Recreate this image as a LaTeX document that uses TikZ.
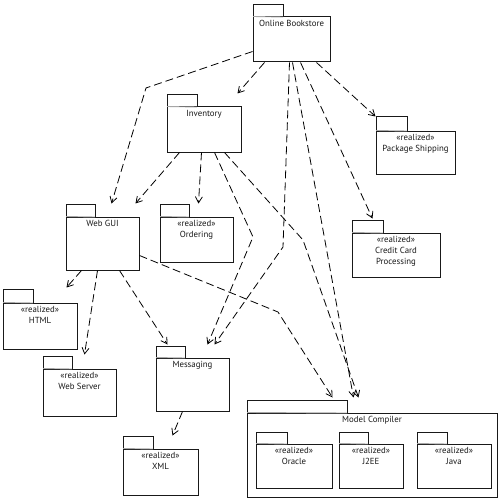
\documentclass[tikz,border=0pt]{standalone}
\usepackage{fontspec}
\setmainfont{PT Sans}
\usetikzlibrary{arrows.meta,calc,fit}
\tikzset{
  pkgbody/.style={draw=black!90, line width=1pt, fill=white, inner sep=0pt},
  pkgedge/.style={draw=black!90, line width=1pt, fill=white},
  sepline/.style={draw=black!35, line width=0.9pt},
  pkgtext/.style={font=\fontsize{8.8}{10.8}\selectfont, align=center, inner sep=0pt, text=black!90},
  dep/.style={draw=black, line width=0.8pt, dash pattern=on 8pt off 4pt,
    -{Straight Barb[length=6pt,width=7pt]}},
}
\newcommand\pkgshape[8]{%
  \draw[pkgedge] (#2,#5) -- (#2,#3) -- (#4,#3) -- (#4,#5);
  \node[pkgbody, fit={(#2,#5) (#6,#7)}] (#1) {};
  \draw[sepline] ([xshift=0.6pt]#1.north west) -- (#4,#5);
  \node[pkgtext, anchor=north] at ($(#1.north)+(0,3.5)$) {#8};
}
\begin{document}
\begin{tikzpicture}[x=1pt,y=-1pt]
\useasboundingbox[fill=white] (0,0) rectangle (500,500);

\pkgshape{ob}{253}{5}{283}{17}{330}{62}{Online Bookstore}
\pkgshape{inv}{167}{95}{197}{107}{241}{152}{Inventory}
\pkgshape{ship}{376}{117}{407}{131}{455}{174}{«realized»\\Package Shipping}
\pkgshape{credit}{352}{220}{383}{233}{440}{277}{«realized»\\Credit Card\\Processing}
\pkgshape{web}{66}{204}{95}{217}{139}{270}{Web GUI}
\pkgshape{ord}{160}{204}{189}{217}{233}{262}{«realized»\\Ordering}
\pkgshape{html}{3}{289}{33}{303}{77}{349}{«realized»\\HTML}
\pkgshape{websrv}{43}{356}{72}{369}{116}{416}{«realized»\\Web Server}
\pkgshape{msg}{156}{346}{185}{358}{229}{411}{Messaging}
\pkgshape{xml}{123}{436}{153}{449}{198}{495}{«realized»\\XML}
\pkgshape{mc}{247}{400}{347}{413}{497}{497}{Model Compiler}
\pkgshape{oracle}{256}{432}{287}{444}{332}{488}{«realized»\\Oracle}
\pkgshape{jee}{339}{432}{368}{444}{403}{488}{«realized»\\J2EE}
\pkgshape{java}{417}{432}{447}{444}{491}{488}{«realized»\\Java}

% Online Bookstore dependencies
\draw[dep] ($(ob.north west)+(0,35)$) -- (146,88) -- ($(web.north west)+(46,-13)$);
\draw[dep] ($(ob.south west)+(12,0)$) -- ($(inv.north west)+(71,-13)$);
\draw[dep] ($(ob.south west)+(37,0)$) -- (283,247) -- ($(msg.north west)+(59,-13)$);
\draw[dep] ($(ob.south west)+(40,0)$) -- ($(mc.north west)+(107,-15)$);
\draw[dep] ($(ob.south west)+(48,0)$) -- ($(credit.north west)+(21,-14)$);
\draw[dep] ($(ob.south west)+(64,0)$) -- ($(ship.north west)+(0,-14)$);

% Inventory dependencies
\draw[dep] ($(inv.south west)+(13,0)$) -- ($(web.north west)+(70,-13)$);
\draw[dep] ($(inv.south west)+(35,0)$) -- ($(ord.north west)+(39,-13)$);
\draw[dep] ($(inv.south west)+(48,0)$) -- (253,237) -- ($(msg.north west)+(52,-13)$);
\draw[dep] ($(inv.south west)+(58,0)$) -- (303,240) -- ($(mc.north west)+(112,-15)$);

% Web GUI dependencies
\draw[dep] ($(web.south west)+(16,0)$) -- ($(html.north west)+(64,-15)$);
\draw[dep] ($(web.south west)+(32,0)$) -- ($(websrv.north west)+(42,-14)$);
\draw[dep] ($(web.south west)+(54,0)$) -- ($(msg.north west)+(12,-13)$);
\draw[dep] ($(web.south east)+(0,-15)$) -- (278,312) -- ($(mc.north west)+(86,-15)$);

% Messaging dependency
\draw[dep] ($(msg.south west)+(27,0)$) -- ($(xml.north west)+(50,-13)$);
\end{tikzpicture}
\end{document}
